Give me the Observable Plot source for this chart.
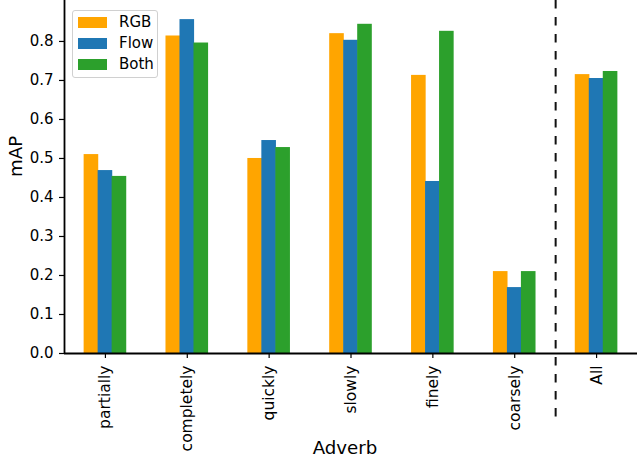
<!DOCTYPE html>
<html><head><meta charset="utf-8">
<script src="https://cdn.jsdelivr.net/npm/d3@7"></script>
<script src="https://cdn.jsdelivr.net/npm/@observablehq/plot@0.6"></script>
<style>
body{margin:0;background:#fff;}
#wrap{position:relative;width:637px;height:456px;font-family:"DejaVu Sans",sans-serif;overflow:hidden;}
.legend{position:absolute;left:72px;top:10px;width:84px;height:66px;border:1px solid #d0d0d0;border-radius:3px;background:rgba(255,255,255,0.8);}
.row{position:absolute;left:5px;height:14px;display:flex;align-items:center;font-size:15px;color:#000;white-space:nowrap}
.sw{width:29px;height:11px;margin-right:12px}
</style></head><body><div id="wrap"></div>
<script>
const adverbs = ["partially","completely","quickly","slowly","finely","coarsely","All"];
const series = ["RGB","Flow","Both"];
const colors = ["#ffa500","#1f77b4","#2ca02c"];
const rgb  = [0.510, 0.814, 0.500, 0.820, 0.713, 0.210, 0.715];
const flow = [0.469, 0.856, 0.546, 0.803, 0.441, 0.169, 0.705];
const both = [0.454, 0.796, 0.528, 0.844, 0.826, 0.210, 0.723];
const yTicks = [0, 0.1, 0.2, 0.3, 0.4, 0.5, 0.6, 0.7, 0.8];

const W = 637, H = 456, mL = 64, mR = 0, mT = 0, mB = 103;
const band = (W - mL - mR) / adverbs.length;
const half = band / 2;
const barW = 14;
const data = adverbs.map((a, i) => ({adverb: a, RGB: rgb[i], Flow: flow[i], Both: both[i]}));
// bar k spans [half - 1.5*barW + k*barW, +barW], with a hair of overlap to avoid seams
const insets = series.map((s, k) => {
  const left = half - 1.5 * barW + k * barW;
  return [left - 0.3, band - (left + barW) - 0.3];
});

const chart = Plot.plot({
  width: W, height: H, marginLeft: mL, marginRight: mR, marginTop: mT, marginBottom: mB,
  style: {fontFamily: "DejaVu Sans", fontSize: "15px", color: "#000", background: "#fff", overflow: "visible"},
  x: {domain: adverbs, padding: 0, round: false, label: null},
  y: {domain: [0, 0.905], label: null},
  marks: [
    ...series.map((s, k) => Plot.barY(data, {x: "adverb", y: s, fill: colors[k], insetLeft: insets[k][0], insetRight: insets[k][1]})),
    Plot.axisY({ticks: yTicks, tickFormat: d3.format(".1f"), tickSize: 5, tickPadding: 6, label: null, strokeWidth: 1.2, fontSize: 15}),
    Plot.axisX({tickRotate: -90, tickSize: 5, tickPadding: 7, label: null, strokeWidth: 1.2, fontSize: 15.5}),
    Plot.ruleY([0], {strokeWidth: 1.8}),
    Plot.ruleX([adverbs[0]], {dx: -half, strokeWidth: 1.8}),
    Plot.ruleX(["All"], {dx: -half, strokeWidth: 2, stroke: "#111", strokeDasharray: "8.5,8.5", insetBottom: -69}),
    Plot.text(["mAP"], {text: d => d, frameAnchor: "left", rotate: -90, dx: -48, fontSize: 18.2}),
    Plot.text(["Adverb"], {text: d => d, frameAnchor: "bottom", dx: -6, dy: 100, fontSize: 18.2})
  ]
});
const wrap = document.getElementById("wrap");
wrap.appendChild(chart);
const legend = document.createElement("div");
legend.className = "legend";
series.forEach((s, k) => {
  const row = document.createElement("div");
  row.className = "row";
  row.style.top = (4 + 21 * k) + "px";
  row.innerHTML = `<div class="sw" style="background:${colors[k]}"></div><span>${s}</span>`;
  legend.appendChild(row);
});
wrap.appendChild(legend);
</script>
</body></html>
